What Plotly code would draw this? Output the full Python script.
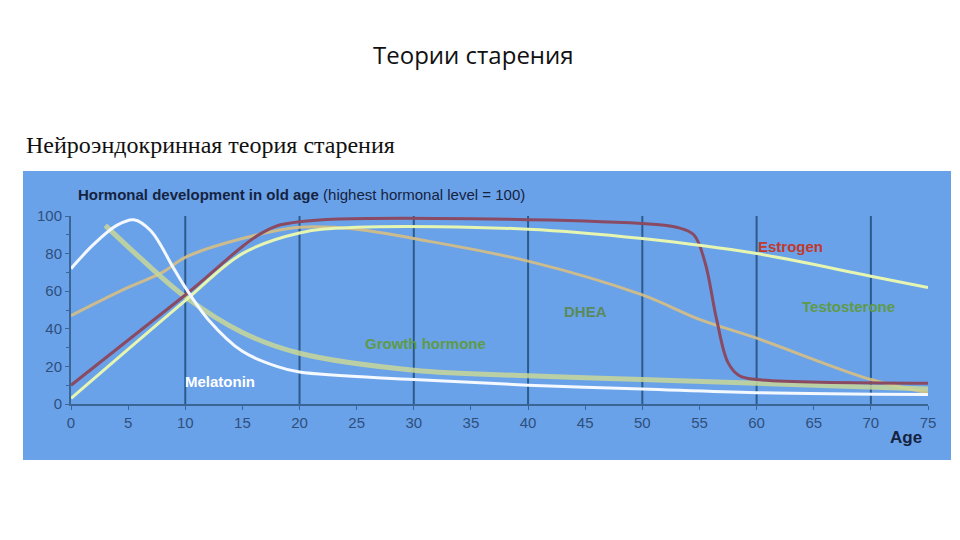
import plotly.graph_objects as go

# ages sampled along the curves
age_mel = [0, 2, 4, 5.5, 7, 9, 10, 12, 15, 18, 20, 30, 40, 50, 60, 75]
melatonin = [72, 85, 95, 98, 92, 72, 62, 45, 28, 20, 17, 13, 10, 8, 6, 5]

age_gh = [3, 6, 10, 15, 20, 30, 40, 50, 60, 75]
growth = [95, 78, 57, 38, 27, 18, 15, 13, 11, 8]

age_dhea = [0, 5, 8, 10, 15, 20, 25, 30, 40, 50, 55, 60, 70, 75]
dhea = [47, 62, 70, 78, 88, 94, 93, 88, 76, 58, 45, 35, 13, 6]

age_est = [0, 10, 17, 20, 50, 53, 54.5, 55.5, 56.5, 57.5, 58.5, 60, 75]
estrogen = [10, 58, 92, 97, 96, 94, 90, 75, 45, 22, 15, 13, 11]

age_tes = [0, 10, 15, 20, 25, 40, 50, 60, 70, 75]
testosterone = [3, 55, 80, 91, 94, 93, 88, 80, 68, 62]

x0, x1 = 63 / 960, 920 / 960
y0, y1 = (540 - 396) / 540, (540 - 208) / 540

fig = go.Figure()
series = [
    (age_dhea, dhea, "rgba(215,190,130,0.9)", 3),
    (age_gh, growth, "rgba(200,215,150,0.85)", 5),
    (age_est, estrogen, "#8a4a62", 3),
    (age_tes, testosterone, "#e6f5b0", 3),
    (age_mel, melatonin, "#f4f8ff", 3),
]
for xs, ys, col, w in series:
    fig.add_trace(go.Scatter(x=xs, y=ys, mode="lines", line=dict(color=col, width=w, shape="spline"),
                             showlegend=False, hoverinfo="skip"))

labels = [
    (63, 84, "Estrogen", "#c0392b"),
    (68, 52, "Testosterone", "#5f9a48"),
    (45, 49, "DHEA", "#5a8a5a"),
    (31, 32, "Growth hormone", "#5f9a48"),
    (13, 12, "Melatonin", "#ffffff"),
]
for lx, ly, t, c in labels:
    fig.add_annotation(x=lx, y=ly, text="<b>" + t + "</b>", showarrow=False,
                       font=dict(family="Liberation Sans", size=15, color=c))

fig.add_shape(type="rect", xref="paper", yref="paper", x0=15 / 960, x1=943 / 960,
              y0=(540 - 452) / 540, y1=(540 - 163) / 540, fillcolor="#6aa2ea",
              line_width=0, layer="below")

fig.add_annotation(xref="paper", yref="paper", x=68 / 960, y=(540 - 186) / 540, xanchor="left",
                   showarrow=False,
                   text="<b>Hormonal development in old age</b> (highest hormonal level = 100)",
                   font=dict(family="Liberation Sans", size=15, color="#15233f"))
fig.add_annotation(xref="paper", yref="paper", x=916 / 960, y=(540 - 441) / 540, xanchor="right",
                   showarrow=False, text="<b>Age</b>",
                   font=dict(family="Liberation Sans", size=17, color="#15233f"))
fig.add_annotation(xref="paper", yref="paper", x=465 / 960, y=(540 - 28) / 540, showarrow=False,
                   text="Теории старения", font=dict(family="Open Sans", size=24, color="#111"))
fig.add_annotation(xref="paper", yref="paper", x=16 / 960, y=(540 - 122) / 540, xanchor="left",
                   showarrow=False, text="Нейроэндокринная теория старения",
                   font=dict(family="Liberation Serif", size=24, color="#111"))

fig.update_layout(
    width=960, height=540, margin=dict(l=0, r=0, t=0, b=0, pad=0),
    paper_bgcolor="white", plot_bgcolor="rgba(0,0,0,0)",
    xaxis=dict(domain=[x0, x1], range=[0, 75], tickvals=list(range(0, 80, 5)), automargin=False,
               showgrid=False, showline=True, linecolor="#3a6595", linewidth=2,
               ticks="outside", tickcolor="#3a6595", ticklen=4,
               tickfont=dict(family="Liberation Sans", size=15, color="#2f4f7a"), zeroline=False),
    yaxis=dict(domain=[y0, y1], range=[0, 100], tickvals=list(range(0, 120, 20)), automargin=False,
               showgrid=False, showline=True, linecolor="#3a6595", linewidth=2,
               ticks="outside", tickcolor="#3a6595", ticklen=4,
               minor=dict(ticks="outside", dtick=10, ticklen=3, tickcolor="#3a6595"),
               tickfont=dict(family="Liberation Sans", size=15, color="#2f4f7a"), zeroline=False),
)
for g in range(10, 80, 10):
    fig.add_vline(x=g, line=dict(color="#2c5a8a", width=2), layer="below")

fig.write_html("out.html")
